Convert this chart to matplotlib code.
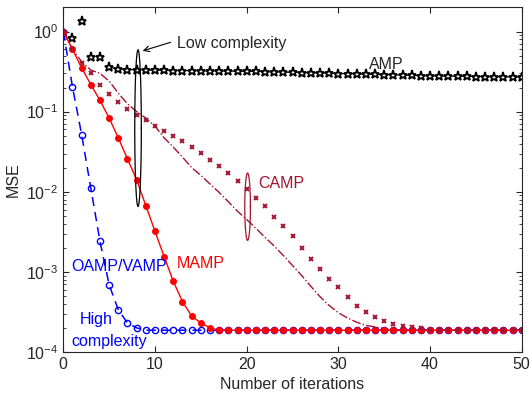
import numpy as np
import matplotlib
matplotlib.use('Agg')
import matplotlib.pyplot as plt

plt.rcParams['font.family'] = ['Liberation Sans', 'DejaVu Sans']

it = np.arange(51)

# AMP (stars)
amp = [1.0, 0.82, 1.35, 0.48, 0.48, 0.36, 0.34, 0.335, 0.333, 0.331,
       0.329, 0.327, 0.326, 0.325, 0.324, 0.323, 0.322, 0.321, 0.32, 0.319,
       0.318, 0.317, 0.315, 0.313, 0.311, 0.309, 0.307, 0.305, 0.303, 0.301,
       0.299, 0.297, 0.295, 0.293, 0.291, 0.289, 0.287, 0.285, 0.283, 0.281,
       0.279, 0.278, 0.277, 0.276, 0.275, 0.274, 0.273, 0.272, 0.271, 0.27, 0.269]

# MAMP (red dots)
mamp = [1.0, 0.6, 0.35, 0.218, 0.138, 0.083, 0.047, 0.0256, 0.0141, 0.0067,
        0.0032, 0.00155, 7.6e-4, 4.25e-4, 2.8e-4, 2.3e-4, 2.0e-4] + [1.87e-4] * 34

# OAMP/VAMP (blue circles)
oamp = [1.0, 0.204, 0.0516, 0.0111, 0.0024, 6.9e-4, 3.35e-4, 2.3e-4, 2.0e-4] + [1.87e-4] * 42

# CAMP simulated (x markers)
camp = [1.0, 0.6, 0.41, 0.30, 0.218, 0.167, 0.132, 0.108, 0.092, 0.078,
        0.067, 0.058, 0.050, 0.0426, 0.0365, 0.0305, 0.0251, 0.0207, 0.0171, 0.0135,
        0.0109, 0.0083, 0.0066, 0.0049, 0.0037, 0.0028, 0.0020, 0.00145, 0.00108, 8.1e-4,
        6.4e-4, 4.8e-4, 3.8e-4, 3.15e-4, 2.7e-4, 2.44e-4, 2.24e-4, 2.13e-4, 2.05e-4, 2.0e-4] + [1.87e-4] * 11

# CAMP dash-dot curve
camp_se = [1.0, 0.6, 0.42, 0.33, 0.30, 0.24, 0.17, 0.125, 0.10, 0.083,
           0.066, 0.047, 0.036, 0.027, 0.020, 0.016, 0.0125, 0.0098, 0.0075, 0.0057,
           0.0045, 0.0035, 0.0027, 0.0021, 0.0016, 0.0012, 9.0e-4, 6.6e-4, 4.9e-4, 3.8e-4,
           3.1e-4, 2.65e-4, 2.35e-4, 2.15e-4, 2.05e-4, 1.95e-4] + [1.87e-4] * 15

red_dark = '#A2142F'
gray = '#262626'

fig = plt.figure(figsize=(5.32, 3.97), dpi=100)
ax = fig.add_axes([0.119, 0.1134, 0.8617, 0.868])

ax.plot(it, camp_se, '-.', color=red_dark, lw=1)
ax.plot(it[5:], amp[5:], '-', color='k', lw=0.8)
ax.plot(it, amp, '*', color='k', mfc='white', mec='k', ms=6.5, mew=1.3)
ax.plot(it, oamp, '--o', color='#0000FF', mfc='none', ms=4.5, lw=1.1, dashes=(6, 4))
ax.plot(it, mamp, '-o', color='#FF0000', ms=4, lw=1)
ax.plot(it, camp, 'x', color=red_dark, ms=3, mew=1.4)

# ellipses drawn in log space
t = np.linspace(0, 2 * np.pi, 200)
ax.plot(8.15 + 0.36 * np.cos(t), 10 ** (-1.206 + 0.978 * np.sin(t)), color='k', lw=0.9)
ax.plot(20.1 + 0.31 * np.cos(t), 10 ** (-2.187 + 0.42 * np.sin(t)), color=red_dark, lw=0.9)

ax.annotate('', xy=(8.36, 0.56), xytext=(12.0, 0.75),
            arrowprops=dict(arrowstyle='->', color='k', lw=0.8))

fs = 11.5
ax.text(12.4, 0.716, 'Low complexity', fontsize=fs, color=gray, va='center')
ax.text(33.3, 0.384, 'AMP', fontsize=fs, color=gray, va='center')
ax.text(21.3, 0.01285, 'CAMP', fontsize=fs, color=red_dark, va='center')
ax.text(12.37, 0.00129, 'MAMP', fontsize=fs, color='#FF0000', va='center')
ax.text(0.91, 0.00115, 'OAMP/VAMP', fontsize=fs, color='#0000FF', va='center')
ax.text(1.82, 2.53e-4, 'High', fontsize=fs, color='#0000FF', va='center')
ax.text(0.91, 1.355e-4, 'complexity', fontsize=fs, color='#0000FF', va='center')

ax.set_yscale('log')
ax.set_xlim(0, 50)
ax.set_ylim(1e-4, 2)
ax.set_xticks([0, 10, 20, 30, 40, 50])
ax.set_xlabel('Number of iterations', fontsize=fs, color=gray)
ax.set_ylabel('MSE', fontsize=fs, color=gray)
ax.tick_params(which='both', direction='in', top=True, right=True, colors=gray,
               labelsize=fs)
ax.tick_params(which='major', length=4)
ax.tick_params(which='minor', length=2)
for s in ax.spines.values():
    s.set_color(gray)
    s.set_linewidth(0.8)

fig.savefig('out.png', dpi=100)
